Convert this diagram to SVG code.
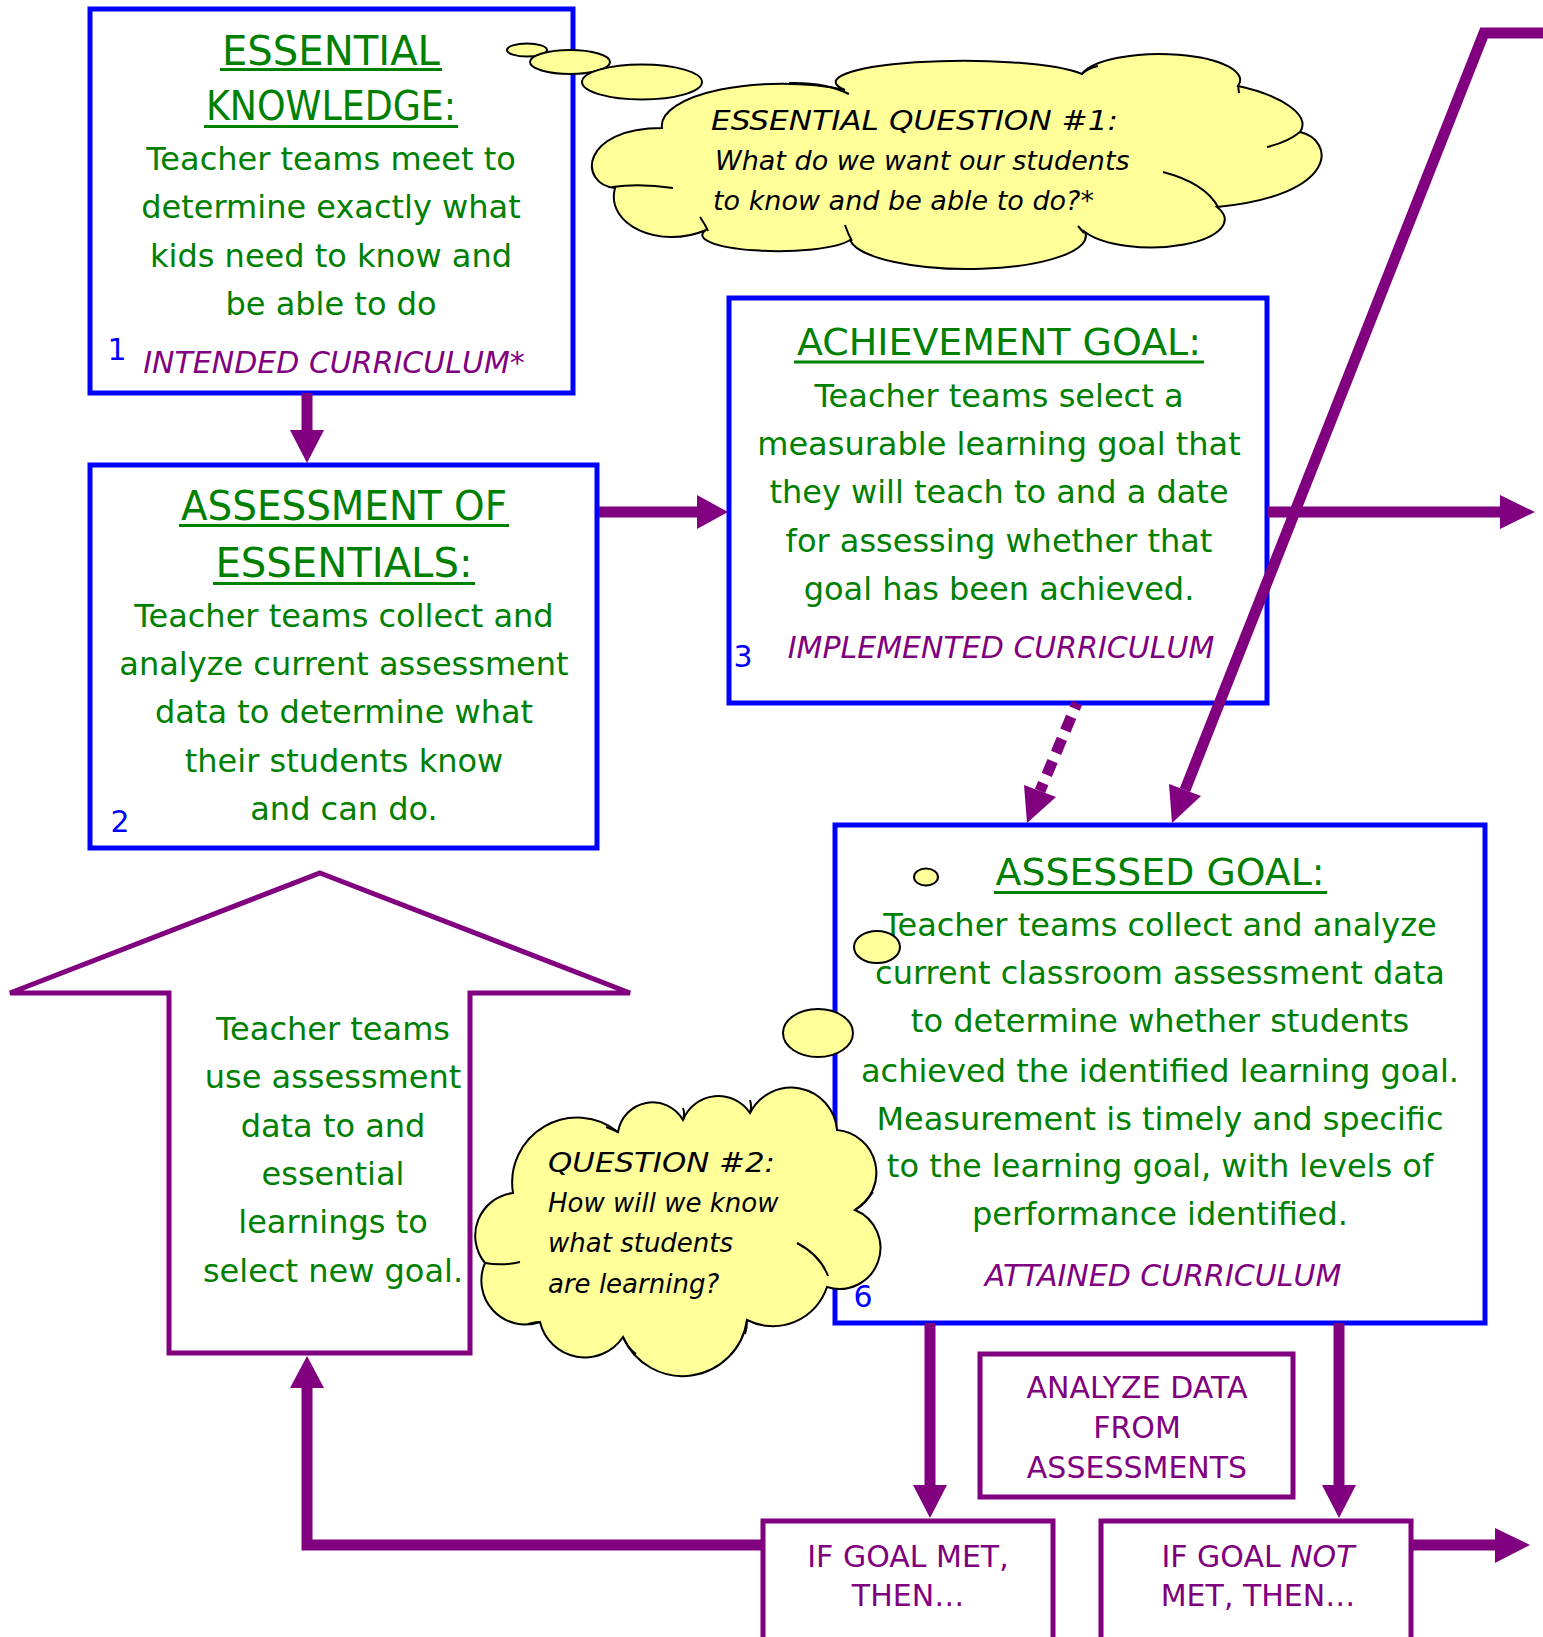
<svg xmlns="http://www.w3.org/2000/svg" width="1543" height="1637" viewBox="0 0 1543 1637">
<style>
text{font-family:'DejaVu Sans',sans-serif}
.box{fill:#fff;stroke:#0000ff;stroke-width:5}
.pbox{fill:#fff;stroke:#800080;stroke-width:5}
.g{fill:#008000;font-size:32px;text-anchor:middle}
.h{fill:#008000;text-anchor:middle}
.ul{stroke:#008000;stroke-width:3}
.lab{fill:#800080;font-size:30px;font-style:italic;text-anchor:middle}
.num{fill:#0000ff;font-size:30px;text-anchor:middle}
.cl{fill:#ffff99;stroke:#000;stroke-width:2}
.curl{fill:none;stroke:#000;stroke-width:2}
.q{fill:#000;font-style:italic}
.p{fill:#800080;font-size:30px;text-anchor:middle}
.ln{fill:none;stroke:#800080;stroke-width:11}
.hd{fill:#800080}
</style>
<rect x="0" y="0" width="1543" height="1637" fill="#fff"/>

<g id="essential-knowledge">
<rect class="box" x="90" y="9" width="483" height="384"/>
<text class="h" x="331" y="65" font-size="41" textLength="218" lengthAdjust="spacingAndGlyphs">ESSENTIAL</text>
<line class="ul" x1="220" y1="69.5" x2="442" y2="69.5"/>
<text class="h" x="331" y="120" font-size="41" textLength="250" lengthAdjust="spacingAndGlyphs">KNOWLEDGE:</text>
<line class="ul" x1="204" y1="126.5" x2="458" y2="126.5"/>
<text class="g" x="331" y="170">Teacher teams meet to</text>
<text class="g" x="331" y="218">determine exactly what</text>
<text class="g" x="331" y="267">kids need to know and</text>
<text class="g" x="331" y="315">be able to do</text>
<text class="num" x="117" y="360">1</text>
<text class="lab" x="334" y="373">INTENDED CURRICULUM*</text>
</g>

<g id="assessment-of-essentials">
<rect class="box" x="90" y="465" width="507" height="383"/>
<text class="h" x="344" y="520" font-size="40" textLength="326" lengthAdjust="spacingAndGlyphs">ASSESSMENT OF</text>
<line class="ul" x1="179" y1="525.5" x2="509" y2="525.5"/>
<text class="h" x="344" y="577" font-size="40" textLength="257" lengthAdjust="spacingAndGlyphs">ESSENTIALS:</text>
<line class="ul" x1="213" y1="583.5" x2="475" y2="583.5"/>
<text class="g" x="344" y="627">Teacher teams collect and</text>
<text class="g" x="344" y="675">analyze current assessment</text>
<text class="g" x="344" y="723">data to determine what</text>
<text class="g" x="344" y="772">their students know</text>
<text class="g" x="344" y="820">and can do.</text>
<text class="num" x="120" y="832">2</text>
</g>

<g id="achievement-goal">
<rect class="box" x="729" y="298" width="538" height="405"/>
<text class="h" x="999" y="355" font-size="38" textLength="404" lengthAdjust="spacingAndGlyphs">ACHIEVEMENT GOAL:</text>
<line class="ul" x1="794" y1="362" x2="1204" y2="362"/>
<text class="g" x="999" y="407">Teacher teams select a</text>
<text class="g" x="999" y="455">measurable learning goal that</text>
<text class="g" x="999" y="503">they will teach to and a date</text>
<text class="g" x="999" y="552">for assessing whether that</text>
<text class="g" x="999" y="600">goal has been achieved.</text>
<text class="num" x="743" y="667">3</text>
<text class="lab" x="1001" y="658">IMPLEMENTED CURRICULUM</text>
</g>

<g id="assessed-goal">
<rect class="box" x="835" y="825" width="650" height="498"/>
<text class="h" x="1160" y="885" font-size="38" textLength="329" lengthAdjust="spacingAndGlyphs">ASSESSED GOAL:</text>
<line class="ul" x1="994" y1="892.5" x2="1327" y2="892.5"/>
<text class="g" x="1160" y="936">Teacher teams collect and analyze</text>
<text class="g" x="1160" y="984">current classroom assessment data</text>
<text class="g" x="1160" y="1032">to determine whether students</text>
<text class="g" x="1160" y="1082">achieved the identified learning goal.</text>
<text class="g" x="1160" y="1130">Measurement is timely and specific</text>
<text class="g" x="1160" y="1177">to the learning goal, with levels of</text>
<text class="g" x="1160" y="1225">performance identified.</text>
<text class="lab" x="1163" y="1286">ATTAINED CURRICULUM</text>
<text class="num" x="863" y="1307">6</text>
</g>

<g id="select-new-goal">
<polygon class="pbox" points="320,873 630,993 470,993 470,1353 169,1353 169,993 10,993"/>
<text class="g" x="333" y="1040">Teacher teams</text>
<text class="g" x="333" y="1088">use assessment</text>
<text class="g" x="333" y="1137">data to and</text>
<text class="g" x="333" y="1185">essential</text>
<text class="g" x="333" y="1233">learnings to</text>
<text class="g" x="333" y="1282">select new goal.</text>
</g>

<g id="analyze-data">
<rect class="pbox" x="980" y="1354" width="313" height="143"/>
<text class="p" x="1137" y="1398">ANALYZE DATA</text>
<text class="p" x="1137" y="1438">FROM</text>
<text class="p" x="1137" y="1478">ASSESSMENTS</text>
</g>

<g id="goal-met">
<rect class="pbox" x="763" y="1521" width="290" height="140"/>
<text class="p" x="908" y="1567">IF GOAL MET,</text>
<text class="p" x="908" y="1606">THEN…</text>
</g>

<g id="goal-not-met">
<rect class="pbox" x="1101" y="1521" width="310" height="140"/>
<text class="p" x="1258" y="1567">IF GOAL <tspan font-style="italic">NOT</tspan></text>
<text class="p" x="1258" y="1606">MET, THEN…</text>
</g>

<g id="connectors">
<line class="ln" x1="307" y1="393" x2="307" y2="432"/>
<polygon class="hd" points="290,430 324,430 307,463"/>
<line class="ln" x1="599" y1="512" x2="700" y2="512"/>
<polygon class="hd" points="697,495 697,529 728,512"/>
<line class="ln" x1="1268" y1="512" x2="1502" y2="512"/>
<polygon class="hd" points="1500,495 1500,529 1535,512"/>
<polyline class="ln" points="1543,33 1484,33 1185,790" stroke-linejoin="miter"/>
<polygon class="hd" points="1169,784 1201,796 1172,823"/>
<line class="ln" x1="1077" y1="703" x2="1040" y2="791" stroke-dasharray="15 9" stroke-dashoffset="9"/>
<polygon class="hd" points="1024,785 1056,797 1027,823"/>
<line class="ln" x1="930" y1="1323" x2="930" y2="1488"/>
<polygon class="hd" points="913,1485 947,1485 930,1518"/>
<line class="ln" x1="1339" y1="1323" x2="1339" y2="1488"/>
<polygon class="hd" points="1322,1485 1356,1485 1339,1518"/>
<line class="ln" x1="1411" y1="1545" x2="1497" y2="1545"/>
<polygon class="hd" points="1495,1528 1495,1563 1530,1545"/>
<polyline class="ln" points="765,1545 307,1545 307,1386" stroke-linejoin="miter"/>
<polygon class="hd" points="290,1388 324,1388 307,1356"/>
</g>

<g id="question-1">
<ellipse class="cl" cx="527" cy="50" rx="20" ry="6.5"/>
<ellipse class="cl" cx="570" cy="62" rx="40" ry="12"/>
<ellipse class="cl" cx="642" cy="82" rx="60" ry="17.5"/>
<path class="cl" d="M615,188 C578,184 580,128 662,128 A120,42 0 0 1 845,90 A120,20 0 0 1 1082,74 A80,26 0 0 1 1238,86 C1280,95 1312,115 1300,132 C1335,140 1340,195 1217,207 A66,25 0 0 1 1085,232 A118,33 0 0 1 850,240 A75,16 0 0 1 706,230 C660,250 605,225 615,188 Z"/>
<path class="curl" d="M612,187 Q640,183 673,188 M789,83 Q825,82 849,94 M1082,74 Q1088,68 1098,66 M1238,85 L1239,93 M1267,147 Q1288,142 1300,132 M1163,172 Q1205,183 1218,207 M845,225 Q848,234 852,241 M700,217 Q705,224 708,231 M1078,226 L1084,233"/>
<text class="q" font-size="27" x="711" y="130" textLength="407" lengthAdjust="spacingAndGlyphs">ESSENTIAL QUESTION #1:</text>
<text class="q" font-size="27" x="715" y="170">What do we want our students</text>
<text class="q" font-size="27" x="713" y="210">to know and be able to do?*</text>
</g>

<g id="question-2">
<ellipse class="cl" cx="926" cy="877" rx="12" ry="8.5"/>
<ellipse class="cl" cx="877" cy="947" rx="23" ry="16"/>
<ellipse class="cl" cx="818" cy="1033" rx="35" ry="24"/>
<path class="cl" d="M513,1193 A65,65 0 0 1 618,1132 A35,35 0 0 1 683,1120 A38,38 0 0 1 750,1113 A46,46 0 0 1 837,1130 A43,43 0 0 1 855,1210 A41,41 0 0 1 827,1287 A57,57 0 0 1 747,1320 A65,65 0 0 1 623,1337 A46,46 0 0 1 540,1322 A44,44 0 0 1 485,1263 A43,43 0 0 1 513,1193 Z"/>
<path class="curl" d="M485,1263 Q502,1266 520,1262 M855,1210 Q866,1202 873,1192 M797,1243 Q820,1255 828,1276 M623,1337 Q627,1347 636,1354 M747,1320 Q747,1328 745,1334 M683,1120 Q685,1113 683,1108 M750,1113 Q752,1106 750,1100 M618,1132 Q612,1129 606,1127 M540,1322 Q535,1322 528,1324"/>
<text class="q" font-size="26" x="548" y="1172" textLength="227" lengthAdjust="spacingAndGlyphs">QUESTION #2:</text>
<text class="q" font-size="26" x="548" y="1212">How will we know</text>
<text class="q" font-size="26" x="548" y="1252">what students</text>
<text class="q" font-size="26" x="548" y="1293">are learning?</text>
</g>
</svg>
